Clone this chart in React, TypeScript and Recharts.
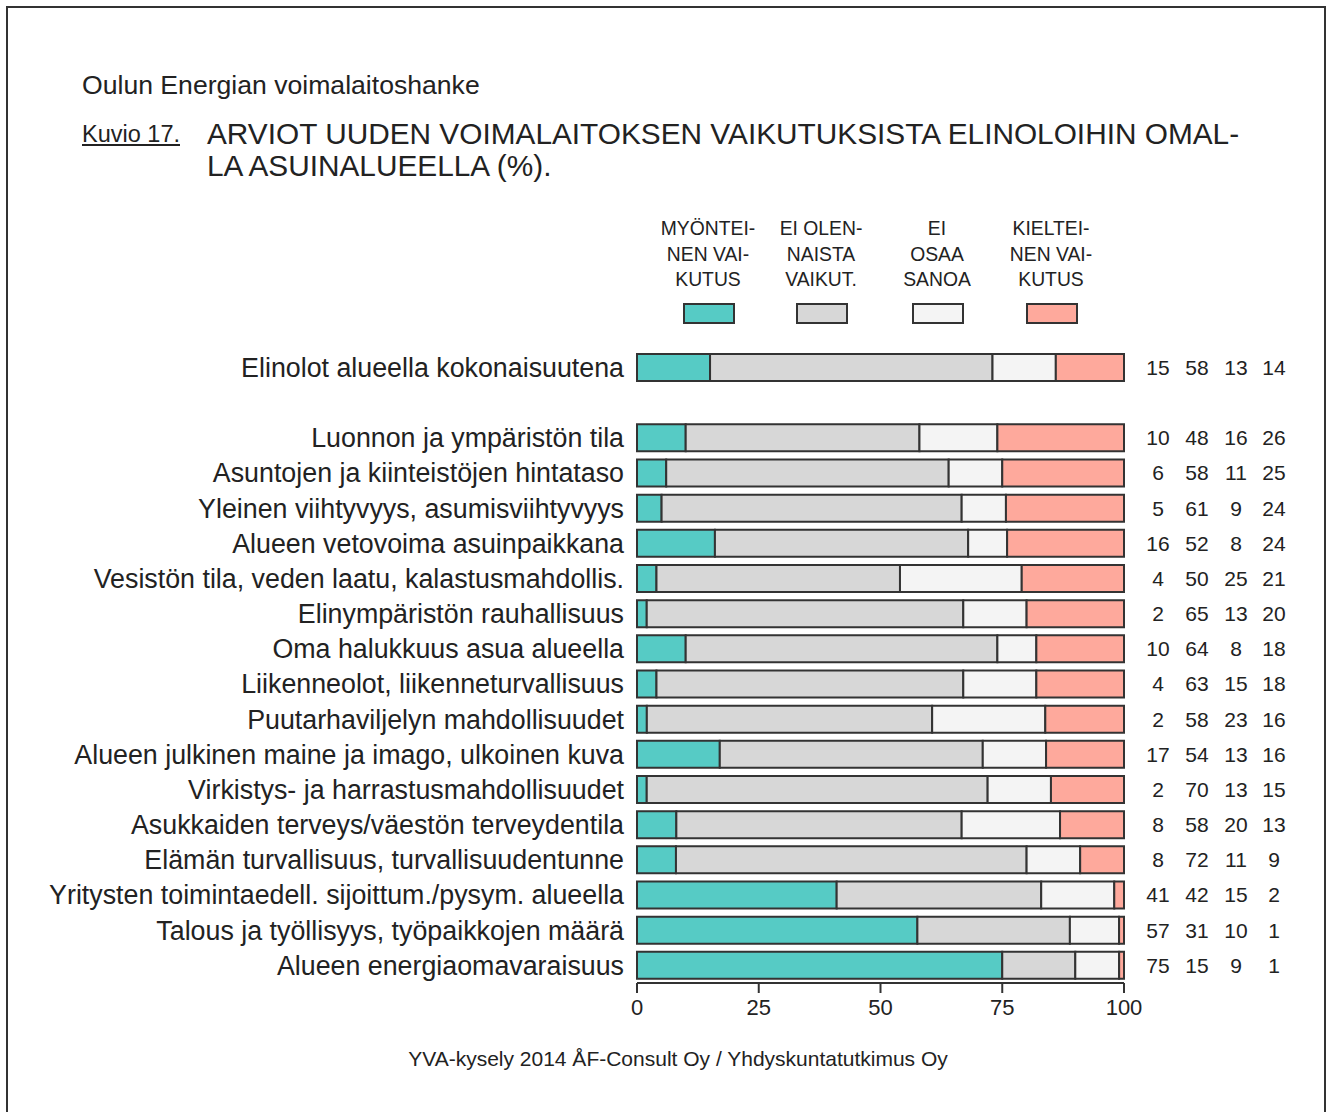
import React from 'react';
import { BarChart, Bar, XAxis, YAxis, LabelList } from 'recharts';

// Kysymykset (tyhjä rivi erottaa kokonaisarvion muista)
const categories = [
  'Elinolot alueella kokonaisuutena',
  '',
  'Luonnon ja ympäristön tila',
  'Asuntojen ja kiinteistöjen hintataso',
  'Yleinen viihtyvyys, asumisviihtyvyys',
  'Alueen vetovoima asuinpaikkana',
  'Vesistön tila, veden laatu, kalastusmahdollis.',
  'Elinympäristön rauhallisuus',
  'Oma halukkuus asua alueella',
  'Liikenneolot, liikenneturvallisuus',
  'Puutarhaviljelyn mahdollisuudet',
  'Alueen julkinen maine ja imago, ulkoinen kuva',
  'Virkistys- ja harrastusmahdollisuudet',
  'Asukkaiden terveys/väestön terveydentila',
  'Elämän turvallisuus, turvallisuudentunne',
  'Yritysten toimintaedell. sijoittum./pysym. alueella',
  'Talous ja työllisyys, työpaikkojen määrä',
  'Alueen energiaomavaraisuus',
];

const positive = [15, null, 10, 6, 5, 16, 4, 2, 10, 4, 2, 17, 2, 8, 8, 41, 57, 75];
const neutral = [58, null, 48, 58, 61, 52, 50, 65, 64, 63, 58, 54, 70, 58, 72, 42, 31, 15];
const dontKnow = [13, null, 16, 11, 9, 8, 25, 13, 8, 15, 23, 13, 13, 20, 11, 15, 10, 9];
const negative = [14, null, 26, 25, 24, 24, 21, 20, 18, 18, 16, 16, 15, 13, 9, 2, 1, 1];

const legendLabels = [
  ['MYÖNTEI-', 'NEN VAI-', 'KUTUS'],
  ['EI OLEN-', 'NAISTA', 'VAIKUT.'],
  ['EI', 'OSAA', 'SANOA'],
  ['KIELTEI-', 'NEN VAI-', 'KUTUS'],
];

const xTicks = [0, 0.25, 0.5, 0.75, 1];

const colors = ['#56cbc5', '#d7d7d7', '#f4f4f4', '#fea99c'];
const edge = '#333333';

const data = categories.map((name, i) => ({
  name,
  pos: positive[i],
  neu: neutral[i],
  dk: dontKnow[i],
  neg: negative[i],
}));

const font = '"Liberation Sans", Arial, sans-serif';

// luvut palkkien oikealla puolella
const ValueLabels = (props: any) => {
  const { x, y, width, height, value } = props;
  const i = categories.indexOf(value);
  if (i < 0 || positive[i] == null) return null;
  const end = x + width;
  const cy = y + height / 2;
  const vals = [positive[i], neutral[i], dontKnow[i], negative[i]];
  const offs = [34, 73, 112, 150];
  return (
    <g>
      {vals.map((v, k) => (
        <text
          key={k}
          x={end + offs[k]}
          y={cy}
          dy="0.35em"
          textAnchor="middle"
          fontSize={21}
          fontFamily={font}
          fill="#222"
        >
          {v}
        </text>
      ))}
    </g>
  );
};

const CategoryTick = (props: any) => {
  const { x, y, payload } = props;
  return (
    <text x={x - 5} y={y} dy="0.35em" textAnchor="end" fontSize={26.8} fontFamily={font} fill="#222">
      {payload.value}
    </text>
  );
};

export default function App() {
  const legendX = [708, 821, 937, 1051];
  return (
    <div style={{ position: 'absolute', left: 0, top: 0, width: 1330, height: 1112, background: '#fff', overflow: 'hidden' }}>
      <div style={{ position: 'absolute', left: 6, top: 6, width: 1316, height: 1130, border: '2px solid #333' }} />

      <div style={{ position: 'absolute', left: 82, top: 70, fontFamily: font, fontSize: 26.6, color: '#222', lineHeight: '30px' }}>
        Oulun Energian voimalaitoshanke
      </div>
      <div style={{ position: 'absolute', left: 82, top: 121, fontFamily: font, fontSize: 23.5, color: '#222', textDecoration: 'underline', lineHeight: '26px' }}>
        Kuvio 17.
      </div>
      <div style={{ position: 'absolute', left: 207, top: 118, fontFamily: font, fontSize: 29.8, color: '#222', lineHeight: '32px', whiteSpace: 'nowrap' }}>
        ARVIOT UUDEN VOIMALAITOKSEN VAIKUTUKSISTA ELINOLOIHIN OMAL-
        <br />
        LA ASUINALUEELLA (%).
      </div>

      {legendLabels.map((lines, i) => (
        <div key={i}>
          <div
            style={{
              position: 'absolute',
              left: legendX[i] - 70,
              top: 215,
              width: 140,
              textAlign: 'center',
              fontFamily: font,
              fontSize: 21,
              lineHeight: '25.5px',
              color: '#222',
              transform: 'scaleX(0.92)',
            }}
          >
            {lines.map((l, k) => (
              <div key={k}>{l}</div>
            ))}
          </div>
          <div
            style={{
              position: 'absolute',
              left: legendX[i] - 25,
              top: 303,
              width: 48,
              height: 17,
              background: colors[i],
              border: `2px solid ${edge}`,
            }}
          />
        </div>
      ))}

      <div style={{ position: 'absolute', left: 0, top: 0 }}>
        <BarChart
          width={1330}
          height={1040}
          data={data}
          layout="vertical"
          stackOffset="expand"
          barCategoryGap={4}
          margin={{ top: 350, right: 206, bottom: 27, left: 0 }}
        >
          <XAxis
            type="number"
            domain={[0, 1]}
            ticks={xTicks}
            tickFormatter={(v: number) => String(Math.round(v * 100))}
            axisLine={{ stroke: edge, strokeWidth: 2 }}
            tickLine={{ stroke: edge, strokeWidth: 2 }}
            tickSize={10}
            tickMargin={6}
            height={30}
            tick={{ fontSize: 22, fontFamily: font, fill: '#222' }}
          />
          <YAxis
            type="category"
            dataKey="name"
            width={637}
            axisLine={false}
            tickLine={false}
            interval={0}
            tick={<CategoryTick />}
          />
          <Bar dataKey="pos" stackId="a" fill={colors[0]} stroke={edge} strokeWidth={2} isAnimationActive={false} />
          <Bar dataKey="neu" stackId="a" fill={colors[1]} stroke={edge} strokeWidth={2} isAnimationActive={false} />
          <Bar dataKey="dk" stackId="a" fill={colors[2]} stroke={edge} strokeWidth={2} isAnimationActive={false} />
          <Bar dataKey="neg" stackId="a" fill={colors[3]} stroke={edge} strokeWidth={2} isAnimationActive={false}>
            <LabelList dataKey="name" content={<ValueLabels />} />
          </Bar>
        </BarChart>
      </div>

      <div style={{ position: 'absolute', left: 0, width: 1356, top: 1047, textAlign: 'center', fontFamily: font, fontSize: 21, color: '#222' }}>
        YVA-kysely 2014 ÅF-Consult Oy / Yhdyskuntatutkimus Oy
      </div>
    </div>
  );
}
